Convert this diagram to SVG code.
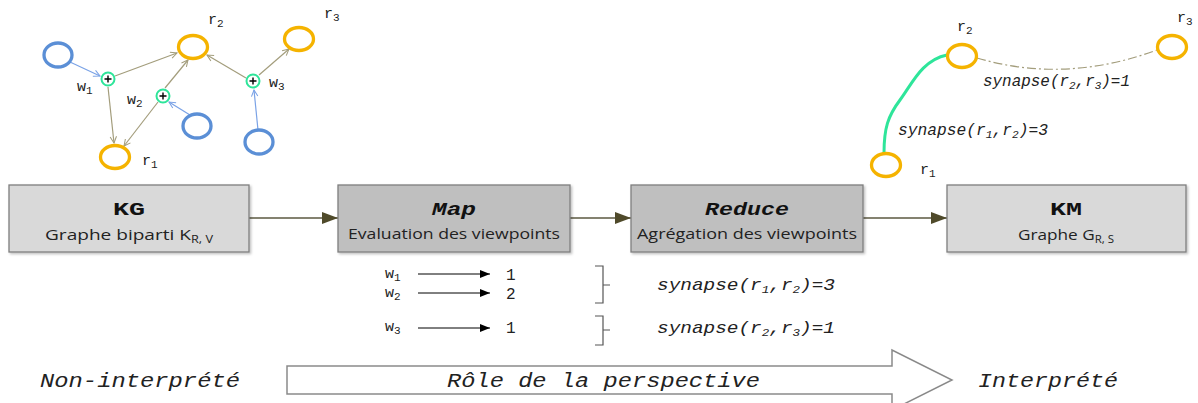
<svg xmlns="http://www.w3.org/2000/svg" width="1198" height="403" viewBox="0 0 1198 403">
<style>
.yel{fill:none;stroke:#f5b300;stroke-width:3.3}
.blu{fill:none;stroke:#5b8fd6;stroke-width:3.3}
.grn{fill:#fff;stroke:#2ee59a;stroke-width:2}
.plus{stroke:#000;stroke-width:1.4}
.oe{stroke:#a39d7c;stroke-width:1.2;fill:none;marker-end:url(#ho)}
.be{stroke:#7aa2e6;stroke-width:1.2;fill:none;marker-end:url(#hb)}
.mono{font-family:"Liberation Mono","Courier New",monospace;fill:#222}
.lbl{font-size:15px}
.sub{font-size:11px}
.box1{fill:#d9d9d9;stroke:#7f7f7f;stroke-width:1.3;filter:url(#sh)}
.box2{fill:#bfbfbf;stroke:#7f7f7f;stroke-width:1.3;filter:url(#sh)}
.ttl{font-family:"Liberation Mono","Courier New",monospace;font-weight:bold;font-size:18px;fill:#111;text-anchor:middle}
.st{font-family:"Open Sans","Noto Sans",sans-serif;font-size:15px;fill:#222;text-anchor:middle}
.flow{stroke:#5b5840;stroke-width:1.3;fill:none;marker-end:url(#hf)}
.lst{stroke:#000;stroke-width:1;fill:none;marker-end:url(#hl)}
.brk{stroke:#555;stroke-width:1.2;fill:none}
.it{font-family:"Liberation Mono","Courier New",monospace;font-style:italic;fill:#222}
</style>
<defs>
<marker id="ho" viewBox="0 0 10 10" refX="9" refY="5" markerWidth="8" markerHeight="8" orient="auto" markerUnits="userSpaceOnUse"><path d="M1,1 L9,5 L1,9" fill="none" stroke="#a39d7c" stroke-width="1.3"/></marker>
<marker id="hb" viewBox="0 0 10 10" refX="9" refY="5" markerWidth="8" markerHeight="8" orient="auto" markerUnits="userSpaceOnUse"><path d="M1,1 L9,5 L1,9" fill="none" stroke="#7aa2e6" stroke-width="1.3"/></marker>
<marker id="hf" viewBox="0 0 16 12" refX="16" refY="6" markerWidth="16" markerHeight="12" orient="auto" markerUnits="userSpaceOnUse"><path d="M0,0 L16,6 L0,12 Z" fill="#4f4a2a"/></marker>
<marker id="hl" viewBox="0 0 10 8" refX="10" refY="4" markerWidth="10" markerHeight="8" orient="auto" markerUnits="userSpaceOnUse"><path d="M0,0 L10,4 L0,8 Z" fill="#000"/></marker>
<filter id="sh" x="-5%" y="-10%" width="115%" height="130%"><feDropShadow dx="1.5" dy="1.5" stdDeviation="1.2" flood-color="#000" flood-opacity="0.25"/></filter>
</defs>

<g id="connectors">
<path class="be" d="M70,62 L100,76"/>
<path class="oe" d="M115,76 L177,53"/>
<path class="oe" d="M108,87 L114,143"/>
<path class="oe" d="M165,88 L188,60"/>
<path class="oe" d="M158,102 L124,146"/>
<path class="be" d="M190,115 L169,102"/>
<path class="oe" d="M246,78 L207,55"/>
<path class="oe" d="M259,75 L289,49"/>
<path class="be" d="M258,130 L254,90"/>
<path d="M884,153 C884,128 888,116 900,100 S922,60 947,55" fill="none" stroke="#2ee59a" stroke-width="3"/>
<path d="M977,58 Q1065,84 1157,50" fill="none" stroke="#a39d7c" stroke-width="1.2" stroke-dasharray="9 3 2 3"/>
<path class="flow" d="M249,218 L338,218"/>
<path class="flow" d="M570,218 L631,218"/>
<path class="flow" d="M863,218 L947,218"/>
<path class="lst" d="M418,274 L490,274"/>
<path class="lst" d="M418,293 L490,293"/>
<path class="lst" d="M418,328 L490,328"/>
<path class="brk" d="M595,266 L603,266 L603,303 L595,303 M603,285 L610,285"/>
<path class="brk" d="M595,316 L603,316 L603,345 L595,345 M603,330 L610,330"/>
</g>

<g id="kg-graph">
<ellipse class="blu" cx="58" cy="55" rx="14" ry="12"/>
<ellipse class="blu" cx="197" cy="126" rx="14" ry="12"/>
<ellipse class="blu" cx="259" cy="142" rx="14" ry="12"/>
<ellipse class="yel" cx="193" cy="47" rx="14.5" ry="11.5"/>
<ellipse class="yel" cx="299" cy="39" rx="14.5" ry="11.5"/>
<ellipse class="yel" cx="115" cy="157" rx="14.5" ry="11.5"/>
<g id="w1"><circle class="grn" cx="108" cy="79" r="6.5"/><path class="plus" d="M104.5,79 h7 M108,75.5 v7"/></g>
<g id="w2"><circle class="grn" cx="163" cy="96" r="6.5"/><path class="plus" d="M159.5,96 h7 M163,92.5 v7"/></g>
<g id="w3"><circle class="grn" cx="253" cy="81" r="6.5"/><path class="plus" d="M249.5,81 h7 M253,77.5 v7"/></g>
<text class="mono lbl" x="77" y="91">w<tspan class="sub" dy="3">1</tspan></text>
<text class="mono lbl" x="127" y="104">w<tspan class="sub" dy="3">2</tspan></text>
<text class="mono lbl" x="269" y="87">w<tspan class="sub" dy="3">3</tspan></text>
<text class="mono lbl" x="208" y="24">r<tspan class="sub" dy="3">2</tspan></text>
<text class="mono lbl" x="324" y="18">r<tspan class="sub" dy="3">3</tspan></text>
<text class="mono lbl" x="142" y="165">r<tspan class="sub" dy="3">1</tspan></text>
</g>

<g id="km-graph">
<ellipse class="yel" cx="962" cy="56" rx="14.5" ry="11.5"/>
<ellipse class="yel" cx="1172" cy="47" rx="14.5" ry="11.5"/>
<ellipse class="yel" cx="886" cy="165" rx="14.5" ry="11.5"/>
<text class="mono lbl" x="957" y="31">r<tspan class="sub" dy="3">2</tspan></text>
<text class="mono lbl" x="1177" y="22">r<tspan class="sub" dy="3">3</tspan></text>
<text class="mono lbl" x="920" y="174">r<tspan class="sub" dy="3">1</tspan></text>
<text class="it" font-size="16" x="983" y="86" textLength="147" lengthAdjust="spacingAndGlyphs">synapse(r<tspan class="sub" dy="3">2</tspan><tspan dy="-3">,r</tspan><tspan class="sub" dy="3">3</tspan><tspan dy="-3">)=1</tspan></text>
<text class="it" font-size="16" x="898" y="135" textLength="150" lengthAdjust="spacingAndGlyphs">synapse(r<tspan class="sub" dy="3">1</tspan><tspan dy="-3">,r</tspan><tspan class="sub" dy="3">2</tspan><tspan dy="-3">)=3</tspan></text>
</g>

<g id="kg">
<rect class="box1" x="9" y="185" width="240" height="67"/>
<text class="ttl" x="129" y="215" textLength="32" lengthAdjust="spacingAndGlyphs">KG</text>
<text class="st" x="129" y="240" textLength="168" lengthAdjust="spacingAndGlyphs">Graphe biparti K<tspan font-size="10" dy="3">R, V</tspan></text>
</g>
<g id="map">
<rect class="box2" x="338" y="185" width="232" height="67"/>
<text class="ttl" x="454" y="215" font-style="italic" textLength="44" lengthAdjust="spacingAndGlyphs">Map</text>
<text class="st" x="454" y="239" textLength="212" lengthAdjust="spacingAndGlyphs">Evaluation des viewpoints</text>
</g>
<g id="reduce">
<rect class="box2" x="631" y="185" width="232" height="67"/>
<text class="ttl" x="747" y="215" font-style="italic" textLength="84" lengthAdjust="spacingAndGlyphs">Reduce</text>
<text class="st" x="747" y="239" textLength="220" lengthAdjust="spacingAndGlyphs">Agrégation des viewpoints</text>
</g>
<g id="km">
<rect class="box1" x="947" y="185" width="239" height="67"/>
<text class="ttl" x="1066" y="215" textLength="32" lengthAdjust="spacingAndGlyphs">KM</text>
<text class="st" x="1066" y="240" textLength="96" lengthAdjust="spacingAndGlyphs">Graphe G<tspan font-size="10" dy="3">R, S</tspan></text>
</g>

<g id="evaluation">
<text class="mono lbl" x="385" y="278">w<tspan class="sub" dy="3">1</tspan></text>
<text class="mono lbl" x="385" y="297">w<tspan class="sub" dy="3">2</tspan></text>
<text class="mono lbl" x="385" y="331">w<tspan class="sub" dy="3">3</tspan></text>
<text class="mono" font-size="16" x="506" y="280">1</text>
<text class="mono" font-size="16" x="506" y="299">2</text>
<text class="mono" font-size="16" x="506" y="333">1</text>
<text class="it" font-size="17" x="657" y="290" textLength="178" lengthAdjust="spacingAndGlyphs">synapse(r<tspan class="sub" dy="3">1</tspan><tspan dy="-3">,r</tspan><tspan class="sub" dy="3">2</tspan><tspan dy="-3">)=3</tspan></text>
<text class="it" font-size="17" x="657" y="333" textLength="178" lengthAdjust="spacingAndGlyphs">synapse(r<tspan class="sub" dy="3">2</tspan><tspan dy="-3">,r</tspan><tspan class="sub" dy="3">3</tspan><tspan dy="-3">)=1</tspan></text>
</g>

<g id="perspective">
<path d="M287,366 L892,366 L892,350 L952,380 L892,410 L892,394 L287,394 Z" fill="#fff" stroke="#8a8a8a" stroke-width="1.5"/>
<text class="it" font-size="20" x="40" y="387" textLength="200" lengthAdjust="spacingAndGlyphs">Non-interprété</text>
<text class="it" font-size="20" x="447" y="387" textLength="313" lengthAdjust="spacingAndGlyphs">Rôle de la perspective</text>
<text class="it" font-size="20" x="978" y="387" textLength="140" lengthAdjust="spacingAndGlyphs">Interprété</text>
</g>
</svg>
